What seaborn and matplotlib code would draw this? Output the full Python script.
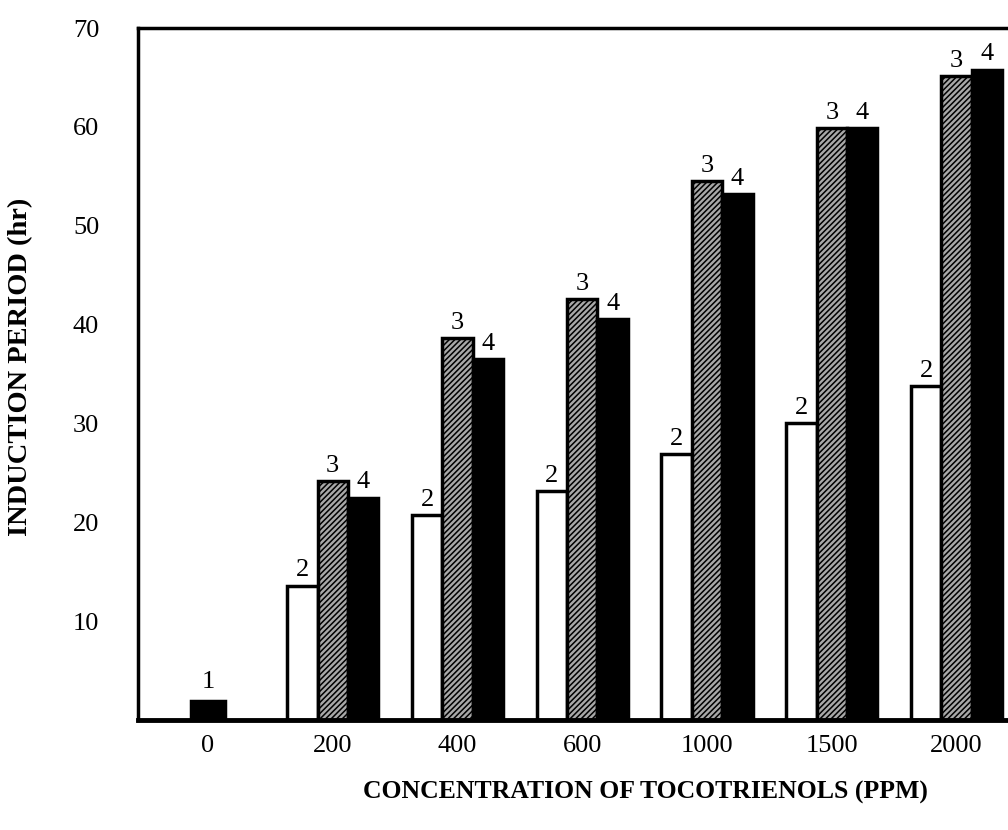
import pandas as pd
import numpy as np
import matplotlib
matplotlib.use('Agg')
import matplotlib.pyplot as plt
import seaborn as sns

## data
concentrations = ['0', '200', '400', '600', '1000', '1500', '2000']
control_conc = ['0']
control_vals = [1.9]
group_conc = ['200', '400', '600', '1000', '1500', '2000']
series2 = [13.6, 20.7, 23.2, 26.9, 30.0, 33.8]
series3 = [24.2, 38.6, 42.6, 54.5, 59.9, 65.1]
series4 = [22.5, 36.5, 40.6, 53.2, 59.9, 65.8]
yticks = [10, 20, 30, 40, 50, 60, 70]

df = pd.DataFrame({
    'conc': group_conc * 3,
    'period': series2 + series3 + series4,
    'series': ['2'] * 6 + ['3'] * 6 + ['4'] * 6,
})
df_ctrl = pd.DataFrame({'conc': control_conc, 'period': control_vals})

sns.set_style('white')
plt.rcParams['font.family'] = ['Liberation Serif', 'DejaVu Serif']
plt.rcParams['hatch.linewidth'] = 1.1
plt.rcParams['text.color'] = 'black'
plt.rcParams['axes.labelcolor'] = 'black'
plt.rcParams['xtick.color'] = 'black'
plt.rcParams['ytick.color'] = 'black'

fig = plt.figure(figsize=(10.08, 8.30), dpi=100)
ax = fig.add_axes([0.137, 0.1325, 0.88, 0.8337])

palette = {'2': 'white', '3': '#a8a8a8', '4': 'black'}
sns.barplot(data=df, x='conc', y='period', hue='series', order=concentrations,
            hue_order=['2', '3', '4'], palette=palette, width=0.73,
            edgecolor='black', linewidth=2.5, saturation=1, legend=False, ax=ax)

# hatching on series 3 (second container)
for p in ax.containers[1]:
    p.set_hatch('//////')

for cont, lab in zip(ax.containers, ['2', '3', '4']):
    ax.bar_label(cont, labels=[lab] * len(cont), padding=3, fontsize=19)

n_before = len(ax.containers)
sns.barplot(data=df_ctrl, x='conc', y='period', order=concentrations, color='black',
            width=0.27, edgecolor='black', linewidth=2.5, saturation=1, ax=ax)
for cont in ax.containers[n_before:]:
    ax.bar_label(cont, labels=['1'] * len(cont), padding=6, fontsize=19)

ax.set_ylim(0, 70)
ax.set_xlim(-0.56, 6.55)
ax.set_yticks(yticks)
ax.tick_params(axis='y', direction='in', length=12, width=2, pad=28, labelsize=19)
ax.tick_params(axis='x', length=0, pad=11, labelsize=19)

for s in ['left', 'top']:
    ax.spines[s].set_linewidth(2.5)
    ax.spines[s].set_color('black')
ax.spines['bottom'].set_linewidth(3.5)
ax.spines['bottom'].set_color('black')
ax.spines['right'].set_visible(False)

ax.set_xlabel('CONCENTRATION OF TOCOTRIENOLS (PPM)', fontsize=18.5, fontweight='bold')
ax.set_ylabel('INDUCTION PERIOD (hr)', fontsize=20.5, fontweight='bold')
ax.xaxis.set_label_coords(0.572, -0.088)
ax.yaxis.set_label_coords(-0.118, 0.51)

plt.savefig('out.png', dpi=100)
